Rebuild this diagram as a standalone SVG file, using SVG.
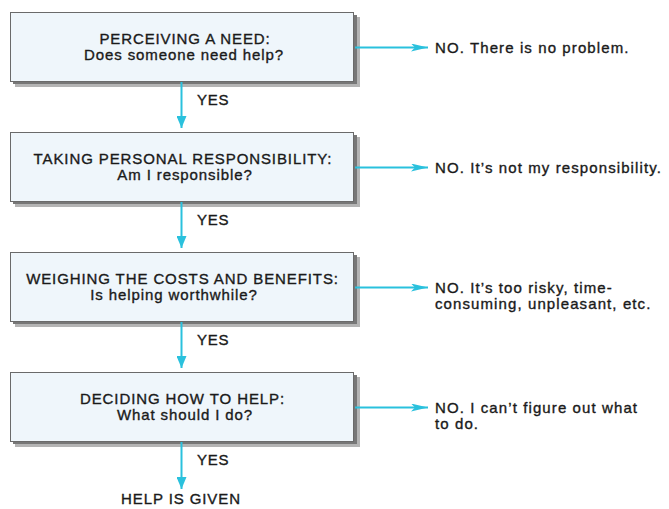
<svg xmlns="http://www.w3.org/2000/svg" width="669" height="509" viewBox="0 0 669 509">
<style>
.shadow2{fill:#b4b4b4}
.shadow{fill:#777}
.box{fill:#eff6fb;stroke:#6a6a6a;stroke-width:1}
text{font-family:"Liberation Sans",Arial,sans-serif;font-size:15px;fill:#1a1a1a;stroke:#1a1a1a;stroke-width:0.35px}
.c{text-anchor:middle;letter-spacing:0.9px}
.no{letter-spacing:1.1px}
.lab{letter-spacing:0.8px}
.conn line{stroke:#2ac1dd;stroke-width:2}
</style>
<defs>
<marker id="ah" viewBox="0 0 12 10" refX="12" refY="5" markerWidth="12" markerHeight="10" markerUnits="userSpaceOnUse" orient="auto">
<path d="M0,0 L12,5 L0,10 Z" fill="#2ac1dd"/>
</marker>
<marker id="ahh" viewBox="0 0 17 8" refX="17" refY="4" markerWidth="17" markerHeight="8" markerUnits="userSpaceOnUse" orient="auto">
<path d="M0,0 L17,4 L0,8 L4,4 Z" fill="#2ac1dd"/>
</marker>
</defs>

<g id="node-perceiving">
<rect class="shadow2" x="15" y="17" width="345" height="70"/>
<rect class="shadow" x="13" y="15" width="344" height="69"/>
<rect class="box" x="10.5" y="12.5" width="343" height="69"/>
<text class="c" x="185" y="43.5">PERCEIVING A NEED:</text>
<text class="c" x="184" y="59.5">Does someone need help?</text>
</g>

<g id="node-responsibility">
<rect class="shadow2" x="15" y="137" width="345" height="70"/>
<rect class="shadow" x="13" y="135" width="344" height="69"/>
<rect class="box" x="10.5" y="132.5" width="343" height="69"/>
<text class="c" x="183" y="163.5">TAKING PERSONAL RESPONSIBILITY:</text>
<text class="c" x="185" y="179.5">Am I responsible?</text>
</g>

<g id="node-costs">
<rect class="shadow2" x="15" y="257" width="345" height="70"/>
<rect class="shadow" x="13" y="255" width="344" height="69"/>
<rect class="box" x="10.5" y="252.5" width="343" height="69"/>
<text class="c" x="182.5" y="283.5">WEIGHING THE COSTS AND BENEFITS:</text>
<text class="c" x="174" y="299.5">Is helping worthwhile?</text>
</g>

<g id="node-deciding">
<rect class="shadow2" x="15" y="377" width="345" height="70"/>
<rect class="shadow" x="13" y="375" width="344" height="69"/>
<rect class="box" x="10.5" y="372.5" width="343" height="69"/>
<text class="c" x="182.5" y="403.5">DECIDING HOW TO HELP:</text>
<text class="c" x="185" y="419.5">What should I do?</text>
</g>

<g id="node-given">
<text class="c" x="181" y="504">HELP IS GIVEN</text>
</g>

<g id="node-no1"><text class="no" x="435" y="53">NO. There is no problem.</text></g>
<g id="node-no2"><text class="no" x="435" y="173">NO. It’s not my responsibility.</text></g>
<g id="node-no3">
<text class="no" x="435" y="293">NO. It’s too risky, time-</text>
<text class="no" x="435" y="309">consuming, unpleasant, etc.</text>
</g>
<g id="node-no4">
<text class="no" x="435" y="413">NO. I can’t figure out what</text>
<text class="no" x="435" y="429">to do.</text>
</g>

<g id="connectors" class="conn">
<line x1="181.5" y1="82" x2="181.5" y2="128" marker-end="url(#ah)"/>
<line x1="181.5" y1="202" x2="181.5" y2="248" marker-end="url(#ah)"/>
<line x1="181.5" y1="322" x2="181.5" y2="368" marker-end="url(#ah)"/>
<line x1="181.5" y1="442" x2="181.5" y2="489" marker-end="url(#ah)"/>
<line x1="355" y1="47.5" x2="428" y2="47.5" marker-end="url(#ahh)"/>
<line x1="355" y1="167.5" x2="428" y2="167.5" marker-end="url(#ahh)"/>
<line x1="355" y1="287.5" x2="428" y2="287.5" marker-end="url(#ahh)"/>
<line x1="355" y1="407.5" x2="428" y2="407.5" marker-end="url(#ahh)"/>
<text class="lab" x="197" y="105">YES</text>
<text class="lab" x="197" y="225">YES</text>
<text class="lab" x="197" y="345">YES</text>
<text class="lab" x="197" y="465">YES</text>
</g>
</svg>
